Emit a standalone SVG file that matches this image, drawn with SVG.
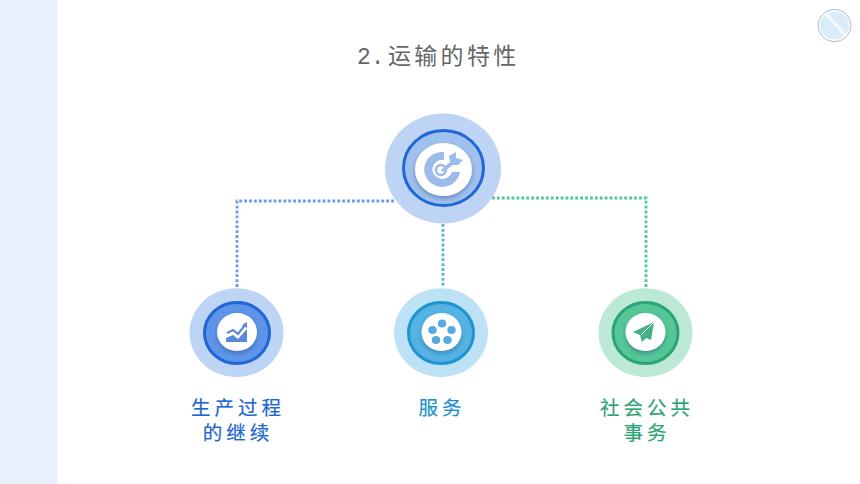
<svg xmlns="http://www.w3.org/2000/svg" width="860" height="484" viewBox="0 0 860 484">
<defs>
<filter id="sh" x="-30%" y="-30%" width="160%" height="170%"><feDropShadow dx="0" dy="2.5" stdDeviation="2" flood-color="#1c3f7a" flood-opacity="0.4"/></filter>
</defs>
<style>
.t{font-family:"Liberation Sans","Noto Sans CJK SC",sans-serif;text-anchor:middle}
.lab{font-size:19.500px;letter-spacing:4px;stroke-width:.2px}
.c{fill:none;stroke-width:2.800;stroke-dasharray:2.800 2.100}
.w{fill:#fff;filter:url(#sh)}
</style>
<rect width="860" height="484" fill="#fff"/>
<rect width="57.500" height="484" fill="#e8f2fd"/>
<g id="badge">
<ellipse cx="834.500" cy="25.500" rx="16.500" ry="16" fill="#fff" stroke="#aab8bf" stroke-width="1"/>
<ellipse cx="834.500" cy="25.500" rx="14.500" ry="14" fill="#d8ecf9"/>
<path d="M826 14L846 36" stroke="#f4f9fc" stroke-width="3"/>
</g>
<text id="title" y="64" font-size="23" fill="#666" font-family="'Liberation Sans','Noto Sans CJK SC',sans-serif"><tspan x="357" font-family="'Liberation Mono',monospace">2.</tspan><tspan x="388" letter-spacing="3.300">运输的特性</tspan></text>
<g id="connectors">
<path class="c" d="M394 201H237V288" stroke="#6a9be8"/>
<path class="c" d="M443 224V287" stroke="#4db9dc"/>
<path class="c" d="M492 198H646V287" stroke="#4cc89c"/>
</g>
<g id="node-top">
<ellipse cx="443" cy="168.500" rx="58" ry="55" fill="#bed4f5"/>
<ellipse cx="443.500" cy="168" rx="40" ry="37.500" fill="#a0c0ee" stroke="#1f66d6" stroke-width="3"/>
<ellipse class="w" cx="443.500" cy="169.500" rx="28.500" ry="26.500"/>
<path d="M444 152A18 17.500 0 1 0 460 172L452 172A10 9.500 0 1 1 444 160Z" fill="#9dbbea"/>
<ellipse cx="441" cy="170" rx="5" ry="5" fill="none" stroke="#9dbbea" stroke-width="2.500"/>
<path d="M441 170L450 162L449 156L456 152L456 158L463 160L458 165L453 165L443 172Z" fill="#9dbbea"/>
</g>
<g id="node-left">
<ellipse cx="236.500" cy="332.700" rx="47" ry="44.500" fill="#bed4f5"/>
<ellipse cx="237" cy="333" rx="32.500" ry="30.500" fill="#5f95e8" stroke="#1f66d6" stroke-width="3"/>
<ellipse class="w" cx="237" cy="332" rx="20" ry="19"/>
<path d="M226 338L233 335L238 339L247 329V342H226Z" fill="#5b88d8"/>
<path d="M227 333L233 330L238 334L245 325" fill="none" stroke="#5b88d8" stroke-width="2.200"/>
<path d="M242 325L247 322L247 328Z" fill="#5b88d8"/>
</g>
<g id="node-mid">
<ellipse cx="441" cy="332.700" rx="47" ry="44.500" fill="#bde1f5"/>
<ellipse cx="441" cy="333" rx="32.500" ry="30.500" fill="#55b3e3" stroke="#1f93d0" stroke-width="3"/>
<ellipse class="w" cx="441.500" cy="332" rx="20" ry="19"/>
<g fill="#55aadf">
<ellipse cx="442" cy="323.500" rx="4.200" ry="4"/>
<ellipse cx="432.500" cy="330" rx="4.200" ry="4"/>
<ellipse cx="451.500" cy="330" rx="4.200" ry="4"/>
<ellipse cx="436" cy="340" rx="4.200" ry="4"/>
<ellipse cx="447.500" cy="340" rx="4.200" ry="4"/>
</g>
</g>
<g id="node-right">
<ellipse cx="645.500" cy="332.700" rx="47" ry="44.500" fill="#bce9d6"/>
<ellipse cx="645.500" cy="333" rx="32.500" ry="30.500" fill="#55c796" stroke="#2ba476" stroke-width="3"/>
<ellipse class="w" cx="645.500" cy="332" rx="20" ry="19"/>
<path d="M654 322L633 332L640 335L642 342L646 338L651 340Z" fill="#43b184"/>
<path d="M654 322L641 335" stroke="#fff" stroke-width="1" fill="none"/>
</g>
<text class="t lab" fill="#1e66d0" stroke="#1e66d0"><tspan x="238" y="415">生产过程</tspan><tspan x="238" y="440">的继续</tspan></text>
<text class="t lab" x="442" y="415" fill="#1f8fd0" stroke="#1f8fd0">服务</text>
<text class="t lab" fill="#2ba476" stroke="#2ba476"><tspan x="647" y="415">社会公共</tspan><tspan x="647" y="440">事务</tspan></text>
</svg>
